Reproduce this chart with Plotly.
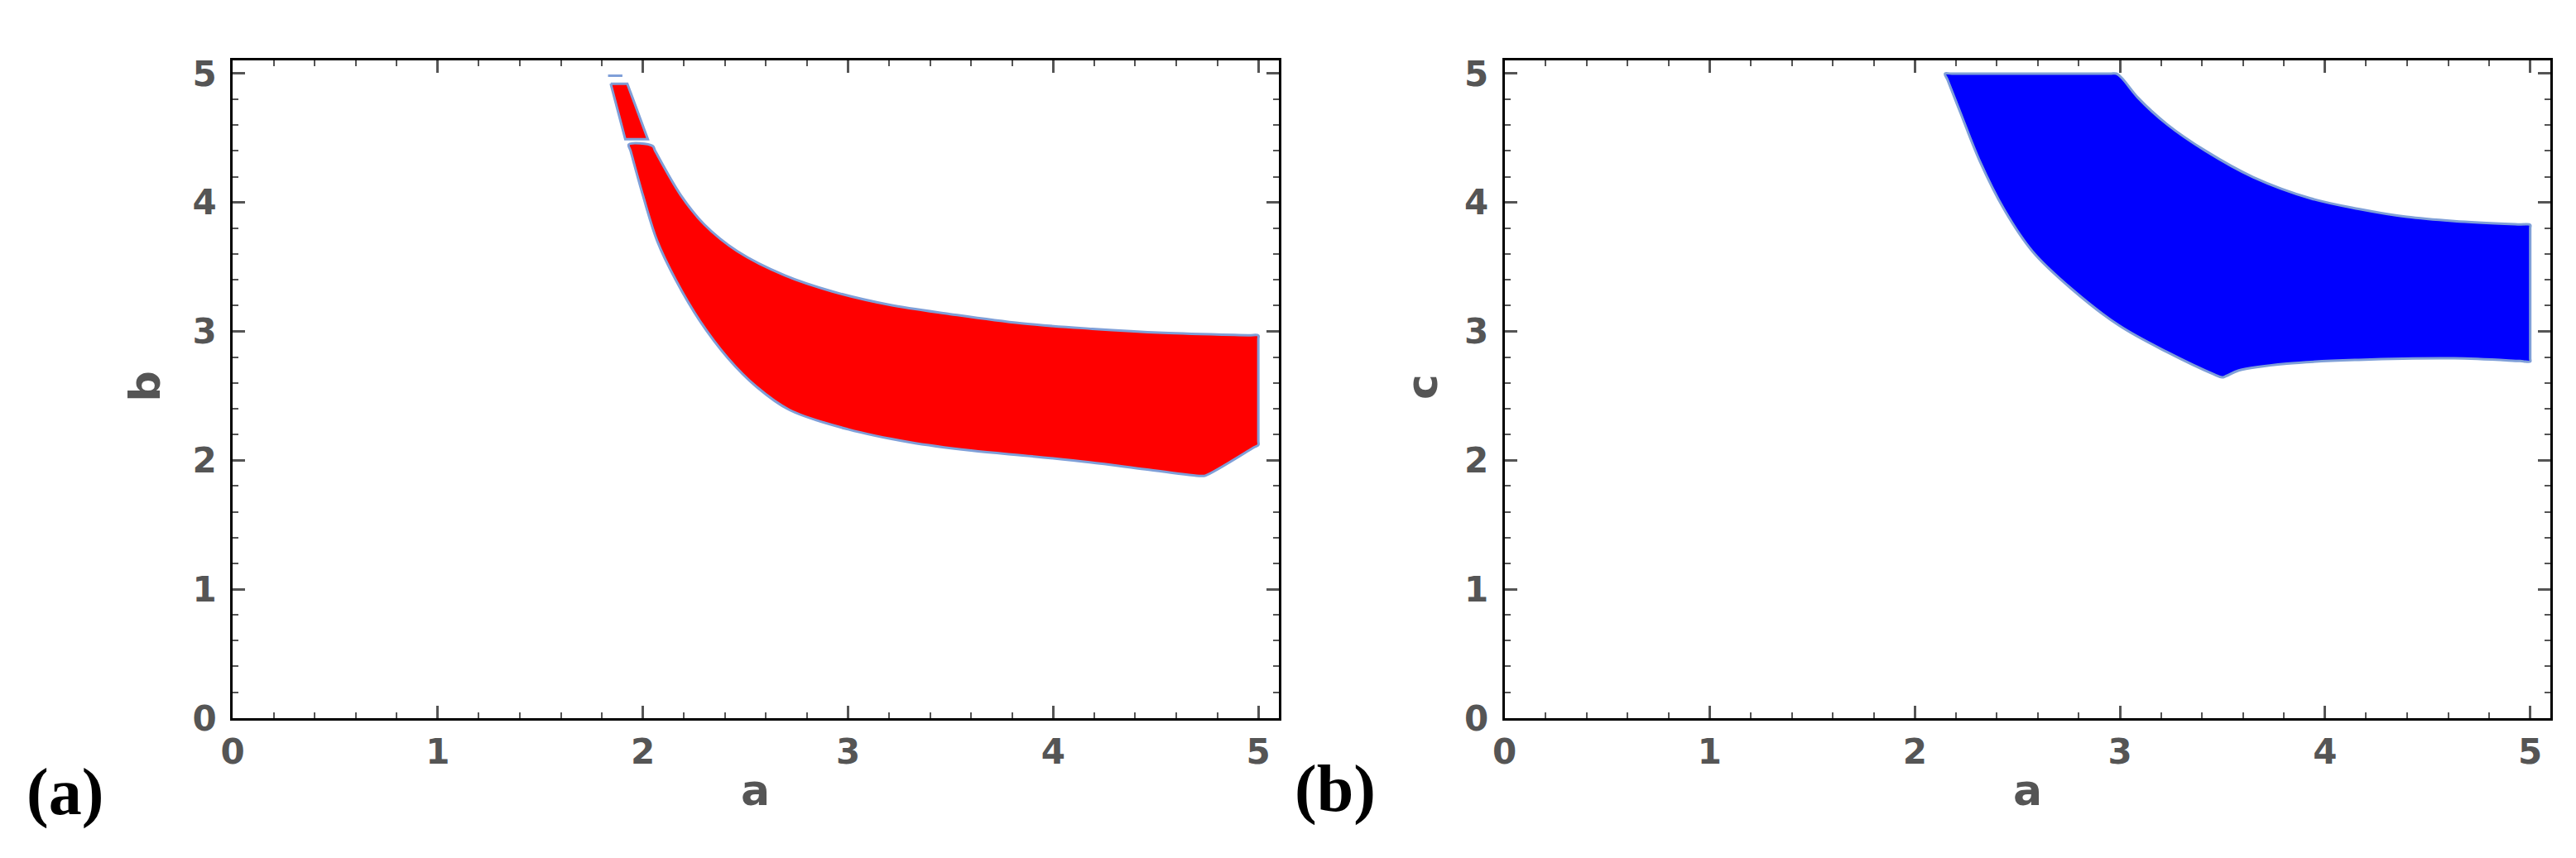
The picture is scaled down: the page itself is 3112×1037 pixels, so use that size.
import plotly.graph_objects as go

# (a) region in the a-b plane
red_small_a = [1.843, 1.924, 2.024, 1.914, 1.843]
red_small_b = [4.922, 4.922, 4.491, 4.491, 4.922]

# main red piece: top edge + upper curve, right edge, lower curve (right to left)
red_upper_a = [1.931, 2.047, 2.060, 2.185, 2.300, 2.461, 2.692, 2.923, 3.199, 3.499, 3.845, 4.191, 4.537, 4.95, 5.0]
red_upper_b = [4.450, 4.439, 4.400, 4.056, 3.828, 3.621, 3.434, 3.310, 3.207, 3.134, 3.062, 3.020, 2.989, 2.970, 2.968]
red_right_a = [5.0, 5.0, 5.0, 4.98]
red_right_b = [2.94, 2.15, 2.119, 2.101]
red_lower_a = [4.742, 4.72, 4.45, 4.178, 3.9, 3.6, 3.3, 3.0, 2.715, 2.554, 2.415, 2.277, 2.162, 2.069, 2.000, 1.94, 1.931]
red_lower_b = [1.881, 1.878, 1.93, 1.984, 2.03, 2.075, 2.14, 2.24, 2.39, 2.570, 2.792, 3.083, 3.393, 3.704, 4.056, 4.40, 4.450]

red_dash_a = [1.83, 1.90]
red_dash_b = [4.984, 4.984]

# (b) region in the a-c plane
blue_upper_a = [2.147, 2.18, 2.95, 2.983, 3.01, 3.088, 3.229, 3.416, 3.649, 3.929, 4.163, 4.397, 4.630, 4.95, 5.0]
blue_upper_c = [5.0, 5.0, 5.0, 5.0, 4.965, 4.813, 4.608, 4.402, 4.197, 4.032, 3.950, 3.889, 3.856, 3.830, 3.827]
blue_right_a = [5.0, 5.0, 5.0, 4.95]
blue_right_c = [3.80, 2.79, 2.766, 2.770]
blue_lower_a = [4.630, 4.163, 3.813, 3.579, 3.52, 3.497, 3.46, 3.229, 2.995, 2.761, 2.574, 2.434, 2.317, 2.224, 2.16, 2.147]
blue_lower_c = [2.791, 2.779, 2.750, 2.697, 2.655, 2.643, 2.665, 2.840, 3.046, 3.334, 3.620, 3.950, 4.320, 4.690, 4.95, 5.0]

tick_vals = [0, 1, 2, 3, 4, 5]
edge = "#7f9fd8"
W, H = 3112, 1037

fig = go.Figure()

fig.add_trace(go.Scatter(x=red_small_a, y=red_small_b, fill="toself", fillcolor="#ff0000", mode="lines",
                         line=dict(color=edge, width=3), xaxis="x", yaxis="y"))
fig.add_trace(go.Scatter(x=red_upper_a + red_right_a + red_lower_a,
                         y=red_upper_b + red_right_b + red_lower_b,
                         fill="toself", fillcolor="#ff0000", mode="lines",
                         line=dict(color=edge, width=3, shape="spline", smoothing=1),
                         xaxis="x", yaxis="y"))
fig.add_trace(go.Scatter(x=red_dash_a, y=red_dash_b, mode="lines",
                         line=dict(color=edge, width=3), xaxis="x", yaxis="y"))

fig.add_trace(go.Scatter(x=blue_upper_a + blue_right_a + blue_lower_a,
                         y=blue_upper_c + blue_right_c + blue_lower_c,
                         fill="toself", fillcolor="#0000ff", mode="lines",
                         line=dict(color=edge, width=3, shape="spline", smoothing=1),
                         xaxis="x2", yaxis="y2"))


def ax(domain, anchor, standoff):
    return dict(domain=domain, anchor=anchor, range=[0, 5.1], showgrid=False, zeroline=False,
                showline=True, linecolor="black", linewidth=3, mirror="allticks",
                ticks="inside", ticklen=15, tickwidth=3, tickcolor="#555",
                tickvals=tick_vals, ticklabelstandoff=standoff,
                tickfont=dict(family="DejaVu Sans", size=42, color="#555", weight="bold"),
                minor=dict(ticks="inside", dtick=0.2, tick0=0, ticklen=7, tickwidth=2,
                           tickcolor="#555", showgrid=False))


xd1 = [259.3 / W, 1529.3 / W]
xd2 = [1803.3 / W, 3073.3 / W]
yd = [(H - 879.8) / H, (H - 59.3) / H]

fig.update_layout(
    width=W, height=H, margin=dict(l=0, r=0, t=0, b=0),
    paper_bgcolor="white", plot_bgcolor="white", showlegend=False,
    xaxis=ax(xd1, "y", 2),
    yaxis=ax(yd, "x", 8),
    xaxis2=ax(xd2, "y2", 2),
    yaxis2=ax(yd, "x2", 8),
)

lab = dict(family="DejaVu Sans", size=52, color="#555", weight="bold")
panel = dict(family="Liberation Serif", size=80, color="black", weight="bold")
notes = [
    (894 / W, 970, "a", lab, 0),
    (2438 / W, 970, "a", lab, 0),
    (153 / W, 466, "b", lab, -90),
    (1703 / W, 466, "c", lab, -90),
    (56 / W, 972, "(a)", panel, 0),
    (1598 / W, 968, "(b)", panel, 0),
]
for x, y, t, f, ang in notes:
    fig.add_annotation(x=x, y=(H - y) / H, xref="paper", yref="paper", text=t, showarrow=False,
                       font=f, textangle=ang, xanchor="center", yanchor="middle")

fig.write_html("out.html")
